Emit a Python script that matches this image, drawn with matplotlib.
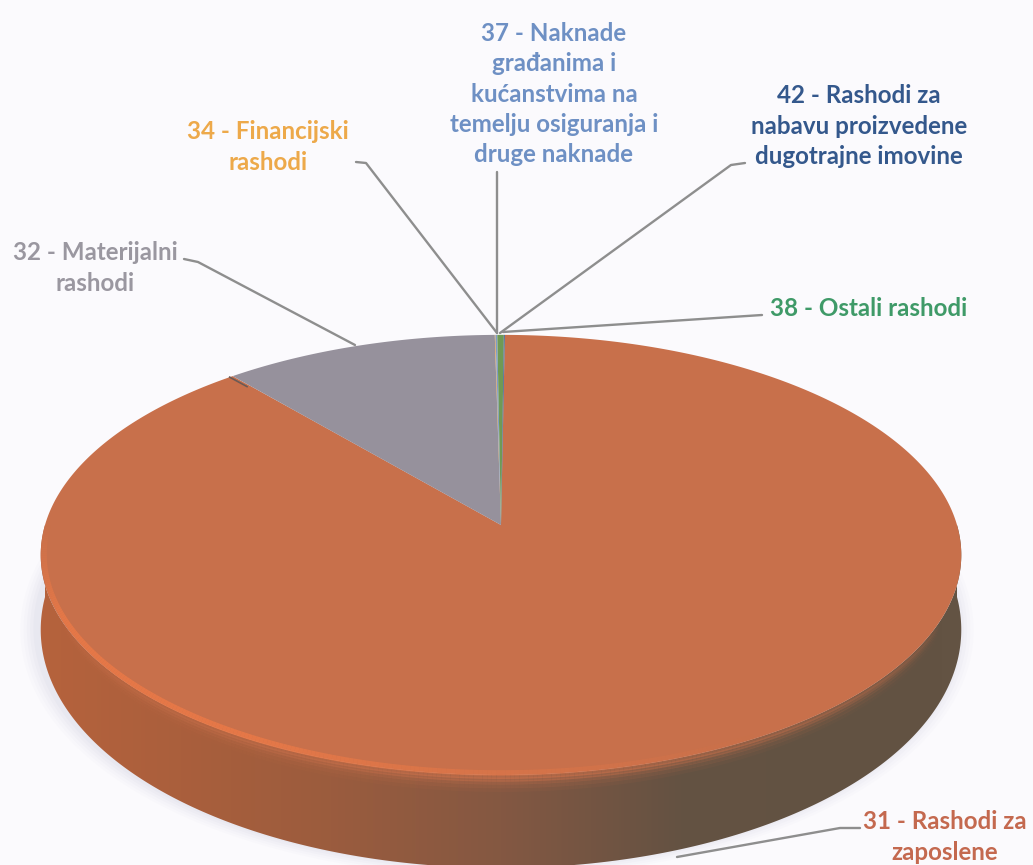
import numpy as np
import matplotlib
matplotlib.use("Agg")
import matplotlib.pyplot as plt
from matplotlib.patches import Polygon
from matplotlib.collections import LineCollection

#### Data
labels = ['31 - Rashodi za\nzaposlene', '32 - Materijalni\nrashodi', '34 - Financijski\nrashodi',
          '37 - Naknade\ngrađanima i\nkućanstvima na\ntemelju osiguranja i\ndruge naknade',
          '38 - Ostali rashodi', '42 - Rashodi za\nnabavu proizvedene\ndugotrajne imovine']
shares = [88.6, 11.0, 0.03, 0.07, 0.26, 0.04]
slice_colors = ['#C8704B', '#96919C', '#E0A050', '#7F9CC8', '#6F9A55', '#3F5F8F']
text_colors = ['#C4694F', '#9A97A0', '#EDA94A', '#6E90C4', '#3F9A68', '#34588C']

plt.rcParams['font.family'] = ['Lato', 'DejaVu Sans']

# pie geometry, in picture pixels
cx, cy = 501, 525
a, b, k = 456, 216, 0.136
start = 0.55


def project(theta, r=1.0, drop=0.0):
    # perspective view of a flat disc, theta clockwise from the back
    t = np.radians(theta)
    x = r * np.sin(t)
    y = r * np.cos(t)
    w = 1 + k * y
    d = drop * (72 - 21 * y)
    return cx + a * x / w, cy - b * y / w + d


def faded_line(theta, alpha, width, zorder, color, r=1.0, drop=0.0):
    # line along the disc edge whose opacity changes per segment
    ex, ey = project(theta, r=r, drop=drop)
    segs = np.stack([np.c_[ex[:-1], ey[:-1]], np.c_[ex[1:], ey[1:]]], axis=1)
    rgba = np.tile(matplotlib.colors.to_rgba(color), (len(ex) - 1, 1))
    rgba[:, 3] = alpha
    ax.add_collection(LineCollection(segs, colors=rgba, linewidths=width, zorder=zorder))


fig = plt.figure(figsize=(10.33, 8.65), dpi=100, facecolor='#FBFAFD')
ax = fig.add_axes([0, 0, 1, 1])
ax.set_xlim(0, 1033)
ax.set_ylim(865, 0)
ax.axis('off')

all_t = np.linspace(0, 360, 721)

# soft shadow under the disc
for grow, alpha in [(1.035, 0.02), (1.028, 0.025), (1.021, 0.03), (1.014, 0.035), (1.007, 0.04)]:
    sx, sy = project(all_t, r=grow, drop=1.0)
    ax.add_patch(Polygon(np.c_[sx - 4, sy - 2], closed=True, fc='#8088A8', ec='none', alpha=alpha, zorder=1))

# side wall, shaded from left to right
front = np.linspace(90, 270, 361)
tx, ty = project(front)
bx, by = project(front[::-1], drop=1.0)
side = Polygon(np.r_[np.c_[tx, ty], np.c_[bx, by]], closed=True, fc='none', ec='none',
               transform=ax.transData)
ax.add_patch(side)
stops = [0, 60, 180, 330, 500, 680, 850, 1033]
reds = [185, 180, 170, 155, 132, 100, 98, 100]
greens = [100, 98, 95, 92, 88, 82, 82, 84]
blues = [62, 60, 60, 62, 66, 66, 66, 68]
xs = np.arange(1033)
grad = np.dstack([np.interp(xs, stops, c) for c in (reds, greens, blues)]).astype(np.uint8)
im = ax.imshow(grad, extent=(0, 1033, 865, 0), aspect='auto', zorder=2)
im.set_clip_path(side)

# top face slices
angle = start
for share, color in zip(shares, slice_colors):
    sweep = share / sum(shares) * 360
    t = np.linspace(angle, angle + sweep, max(int(sweep * 2), 2))
    px, py = project(t)
    pts = np.r_[[[cx, cy]], np.c_[px, py]]
    ax.add_patch(Polygon(pts, closed=True, fc=color, ec='none', zorder=3))
    angle += sweep

# blurred edge between top face and side wall, fading out towards the sides
inner = np.linspace(115, 245, 261)
taper = np.clip(1 - np.abs(inner[:-1] - 180) / 65, 0, 1) ** 0.6
for drop, alpha in [(0.02, 0.7), (0.05, 0.5), (0.08, 0.32), (0.12, 0.18), (0.16, 0.08)]:
    faded_line(inner, taper * alpha, 3, 2.5, '#C8704B', drop=drop)

# lit rim on the front-left edge of the top face
rim_alpha = np.clip((270 - front[:-1]) / 25, 0, 1) * np.clip((front[:-1] - 150) / 60, 0, 1) * 0.8
faded_line(front, rim_alpha, 4, 4, '#ED7A47', r=0.993)

# dark seam where the grey slice meets the rim
g0, g1 = project(np.array([-41.0, -41.0]), r=np.array([0.93, 1.0]))
ax.plot(g0, g1, color='#6B5A55', lw=1.2, zorder=4)

# leader lines
leaders = [
    ([860, 840, 677], [828, 828, 857]),
    ([184, 198, 355], [259, 262, 345]),
    ([356, 366, 497], [162, 163, 333]),
    ([497, 497], [172, 333]),
    ([745, 731, 500], [163, 165, 333]),
    ([762, 503], [315, 332]),
]
for lx, ly in leaders:
    ax.plot(lx, ly, color='#8E8E8E', lw=1.7, solid_capstyle='round', zorder=5)

# labels
label_pos = [(945, 837), (95, 268), (268, 147), (554, 94), (859, 126), (869, 309)]
order = [0, 1, 2, 3, 5, 4]
for i, (x, y) in zip(order, label_pos):
    ax.text(x, y, labels[i], color=text_colors[i], fontsize=17.4, fontweight='bold',
            ha='center', va='center', linespacing=1.38, zorder=6)

fig.savefig('out.png', dpi=100, facecolor=fig.get_facecolor())
